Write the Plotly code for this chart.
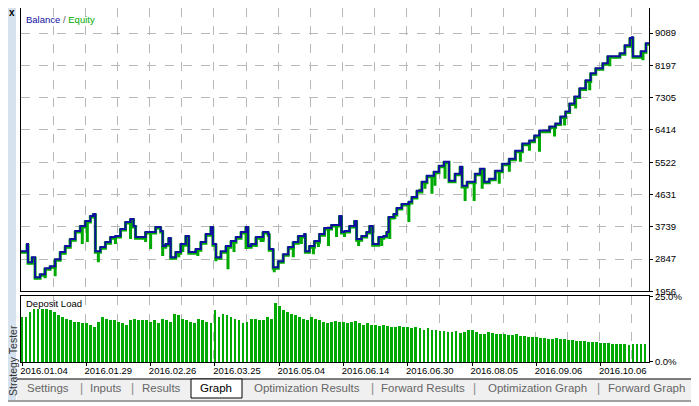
import plotly.graph_objects as go
from plotly.subplots import make_subplots

font_family = 'Liberation Sans'

# balance curve: bar number -> balance
bal_x = [0, 7, 8, 12, 15, 20, 25, 30, 35, 40, 45, 50, 55, 60, 65, 70, 73, 75, 80, 85, 90, 95, 100, 105,
         110, 113, 115, 120, 125, 130, 135, 140, 142, 145, 148, 150, 155, 160, 165, 168, 175, 180, 185,
         190, 192, 195, 200, 205, 210, 215, 220, 225, 227, 230, 235, 242, 247, 248, 252, 257, 262, 267,
         272, 277, 283, 284, 288, 293, 298, 303, 310, 318, 320, 323, 328, 333, 335, 340, 345, 348, 351,
         357, 362, 365, 367, 372, 375, 380, 387, 390, 395, 400, 405, 412, 417, 422, 425, 427, 433, 438,
         440, 445, 450, 453, 458, 462, 467, 473, 480, 487, 493, 500, 507, 512, 517, 527, 533, 538, 543,
         547, 552, 557, 563, 568, 573, 580, 585, 593, 597, 602, 607, 609, 610, 615, 618, 623, 625]
bal_y = [3066, 3261, 2761, 2900, 2345, 2428, 2594, 2650, 2844, 3039, 3205, 3400, 3622, 3760, 3899, 4038,
         4094, 3066, 3177, 3316, 3455, 3483, 3677, 3871, 3955, 3760, 3455, 3455, 3594, 3594, 3733, 3622,
         3205, 3261, 3427, 2900, 3039, 3261, 3483, 3039, 3122, 3316, 3538, 3733, 3261, 2900, 3066, 3205,
         3344, 3455, 3594, 3733, 3205, 3261, 3455, 3594, 3538, 3122, 2622, 2789, 2983, 3177, 3316, 3483,
         3538, 3066, 3205, 3344, 3538, 3705, 3788, 4038, 3594, 3622, 3760, 3899, 3400, 3483, 3594, 3760,
         3261, 3455, 3483, 3594, 4010, 4094, 4260, 4371, 4427, 4565, 4732, 4982, 5148, 5259, 5426, 5537,
         5537, 5010, 5204, 5398, 4871, 4982, 4982, 5204, 5343, 4982, 5065, 5287, 5482, 5620, 5842, 6037,
         6120, 6259, 6398, 6509, 6592, 6786, 6925, 7147, 7341, 7564, 7786, 7980, 8119, 8258, 8452, 8452,
         8535, 8757, 8952, 8979, 8452, 8452, 8591, 8813, 8840]

# equity dips below balance
dip_x = [10, 16, 25, 35, 43, 50, 62, 67, 78, 95, 110, 125, 130, 142, 152, 158, 162, 177, 195, 207, 213,
         225, 235, 242, 240, 253, 272, 280, 292, 297, 307, 315, 323, 337, 360, 368, 373, 387, 398, 403,
         410, 413, 423, 443, 452, 460, 477, 487, 498, 507, 517, 532, 542, 553, 567, 587, 593, 620]
dip_y = [2706, 2289, 2317, 2372, 2983, 3261, 3261, 3316, 2761, 3261, 3400, 3316, 3122, 2928, 2844, 2900,
         3039, 2928, 2789, 2567, 3039, 3122, 3177, 3316, 3316, 2483, 2900, 3261, 2983, 3177, 3205, 3455,
         3455, 3205, 3205, 3400, 3955, 3871, 4788, 4788, 4649, 4871, 5065, 4454, 4454, 4788, 4926, 5259,
         5537, 5842, 5815, 6231, 6536, 7008, 7508, 8174, 8396, 8341]

# deposit load, %
load = [17.4, 17.4, 19.4, 20.6, 20.6, 20.6, 20.6, 20.0, 19.4, 18.1, 17.4, 16.8, 16.2, 15.5, 15.5, 14.9,
        15.2, 14.2, 13.5, 15.5, 17.4, 16.8, 16.2, 16.2, 15.5, 14.9, 14.2, 16.2, 16.8, 16.2, 16.2, 16.2,
        15.5, 16.2, 15.2, 16.8, 16.2, 15.5, 18.7, 18.1, 16.8, 16.2, 15.5, 14.9, 16.8, 16.2, 15.5, 14.9,
        20.0, 17.4, 18.7, 18.1, 17.4, 16.8, 16.2, 14.9, 15.5, 16.8, 16.5, 16.2, 16.2, 17.4, 16.8, 22.6,
        21.5, 20.0, 19.4, 18.7, 18.1, 17.4, 16.8, 16.2, 17.4, 16.8, 16.2, 15.5, 14.9, 15.5, 16.0, 15.5,
        15.5, 15.0, 15.5, 16.0, 15.0, 14.5, 15.0, 14.5, 14.5, 14.0, 14.5, 14.0, 13.5, 13.5, 14.0, 13.5,
        13.5, 13.0, 13.5, 13.0, 12.5, 13.0, 12.5, 12.5, 12.0, 12.0, 11.5, 11.5, 12.0, 11.2, 11.8, 12.3,
        12.3, 11.7, 11.0, 11.0, 11.7, 11.4, 11.0, 10.7, 10.7, 10.4, 10.4, 10.7, 10.1, 10.1, 9.7, 9.7,
        9.7, 9.4, 9.4, 9.1, 9.1, 9.4, 9.1, 8.8, 8.5, 8.5, 8.2, 8.2, 8.2, 7.8, 7.8, 7.8,
        7.5, 7.5, 7.5, 7.2, 7.2, 7.2, 6.9, 6.6, 6.9, 6.9, 6.9, 6.9]

bal_ticks = [1956, 2847, 3739, 4631, 5522, 6414, 7305, 8197, 9089]
date_bars = [2, 66, 130, 194, 258, 322, 386, 450, 514, 578]
date_labels = ['2016.01.04', '2016.01.29', '2016.02.26', '2016.03.25', '2016.05.04',
               '2016.06.14', '2016.06.30', '2016.08.05', '2016.09.06', '2016.10.06']
tabs = ['Settings', 'Inputs', 'Results', 'Graph', 'Optimization Results',
        'Forward Results', 'Optimization Graph', 'Forward Graph']

blue = '#1010a0'
green = '#00aa00'
grid = '#b8b8b8'

# the page adds an 8px body margin, so the figure is drawn 8px smaller and shifted
W, H = 691, 398
ML, MR, MT, MB = 13, 50, 0, 44
PW, PH = W - ML - MR, H - MT - MB


def px(X):
	# reference window pixel -> paper x
	return (X - 8 - ML) / PW


def py(Y):
	return (H - MB - (Y - 8)) / PH


def bal_at(x):
	v = bal_y[0]
	for bx, by in zip(bal_x, bal_y):
		if bx <= x:
			v = by
	return v


fig = make_subplots(rows=2, cols=1, shared_xaxes=True, vertical_spacing=0.012,
					row_heights=[0.81, 0.19])

# equity spikes, drawn under the balance line
sx, sy = [], []
for x, y in zip(dip_x, dip_y):
	sx += [x, x, None]
	sy += [bal_at(x), y, None]
fig.add_trace(go.Scatter(x=sx, y=sy, mode='lines', line=dict(color=green, width=3),
						 hoverinfo='skip'), row=1, col=1)
fig.add_trace(go.Scatter(x=bal_x, y=[v - 30 for v in bal_y], mode='lines', line_shape='hv',
						 line=dict(color=green, width=3), name='Equity'), row=1, col=1)
fig.add_trace(go.Scatter(x=bal_x, y=bal_y, mode='lines', line_shape='hv',
						 line=dict(color=blue, width=2), name='Balance'), row=1, col=1)

fig.add_trace(go.Bar(x=[2 + 4 * i for i in range(len(load))], y=load, width=2.8,
					 marker=dict(color=green, line_width=0), name='Deposit Load'), row=2, col=1)

minor_vals = [1 + 32 * k for k in range(21)]
axis_font = dict(family=font_family, size=9.5, color='black')
for r in (1, 2):
	fig.update_xaxes(range=[1, 626], showgrid=False, showline=True, mirror=True, linecolor='black',
					 linewidth=1, zeroline=False, tickmode='array', tickvals=date_bars,
					 ticktext=date_labels if r == 2 else None, showticklabels=(r == 2),
					 ticks='outside' if r == 2 else '', ticklen=3, tickcolor='black',
					 tickfont=axis_font, ticklabelshift=22, ticklabelstandoff=-3, automargin=False,
					 minor=dict(tickvals=minor_vals, showgrid=True, gridcolor=grid, griddash='dash',
								gridwidth=1),
					 row=r, col=1)

fig.update_yaxes(range=[1956, 9784], side='right', tickmode='array', tickvals=bal_ticks,
				 showgrid=True, gridcolor=grid, griddash='dash', zeroline=False, automargin=False,
				 showline=True, mirror=True, linecolor='black', ticks='outside', ticklen=3,
				 tickcolor='black', tickfont=axis_font, row=1, col=1)
fig.update_yaxes(range=[0, 25.4], side='right', tickmode='array', tickvals=[0, 25],
				 ticktext=['0.0%', '25.0%'], showgrid=False, zeroline=False, automargin=False,
				 showline=True, mirror=True, linecolor='black', ticks='outside', ticklen=3,
				 tickcolor='black', tickfont=axis_font, row=2, col=1)

fig.add_annotation(text='<span style="color:#1010a0">Balance</span> / <span style="color:#00aa00">Equity</span>',
				   xref='paper', yref='paper', x=px(24), y=py(12), xanchor='left', yanchor='top',
				   showarrow=False, font=dict(family=font_family, size=9.5, color='#555'))
fig.add_annotation(text='Deposit Load', xref='paper', yref='paper', x=px(24), y=py(296),
				   xanchor='left', yanchor='top', showarrow=False,
				   font=dict(family=font_family, size=9.5, color='black'))

# window chrome: side bar, border, tab strip
shapes = [
	dict(type='rect', xref='paper', yref='paper', x0=px(0), x1=px(16), y0=py(400), y1=py(5),
		 fillcolor='#d6e2ee', line_width=0, layer='below'),
	dict(type='rect', xref='paper', yref='paper', x0=px(17), x1=px(699), y0=py(400), y1=py(379),
		 fillcolor='#f0f0f0', line_width=0, layer='below'),
	dict(type='line', xref='paper', yref='paper', x0=px(17), x1=px(699), y0=py(379), y1=py(379),
		 line=dict(color='black', width=1)),
	dict(type='rect', xref='paper', yref='paper', x0=px(191), x1=px(242), y0=py(398), y1=py(379),
		 fillcolor='white', line=dict(color='black', width=1)),
	dict(type='line', xref='paper', yref='paper', x0=px(0), x1=px(699), y0=py(401), y1=py(401),
		 line=dict(color='#a0a0a0', width=2)),
]
fig.update_layout(shapes=shapes)

tab_x = [48, 106, 161, 216, 307, 423, 537, 646]
sep_x = [81, 133, 372, 475, 598]
for t, x in zip(tabs, tab_x):
	fig.add_annotation(text=t, xref='paper', yref='paper', x=px(x), y=py(388),
					   xanchor='center', yanchor='middle', showarrow=False,
					   font=dict(family=font_family, size=11.5, color='black' if t == 'Graph' else '#666'))
for x in sep_x:
	fig.add_annotation(text='|', xref='paper', yref='paper', x=px(x), y=py(388),
					   xanchor='center', yanchor='middle', showarrow=False,
					   font=dict(family=font_family, size=12, color='#888'))
fig.add_annotation(text='Strategy Tester', textangle=-90, xref='paper', yref='paper', x=px(12.5), y=py(398),
				   xanchor='center', yanchor='bottom', showarrow=False,
				   font=dict(family=font_family, size=10.5, color='#333'))
fig.add_annotation(text='<b>x</b>', xref='paper', yref='paper', x=px(12), y=py(12),
				   xanchor='center', yanchor='middle', showarrow=False,
				   font=dict(family=font_family, size=10, color='black'))

fig.update_layout(
	width=W, height=H,
	margin=dict(l=ML, r=MR, t=MT, b=MB, pad=0),
	paper_bgcolor='white', plot_bgcolor='white',
	showlegend=False, bargap=0,
)

fig.write_html('out.html')
